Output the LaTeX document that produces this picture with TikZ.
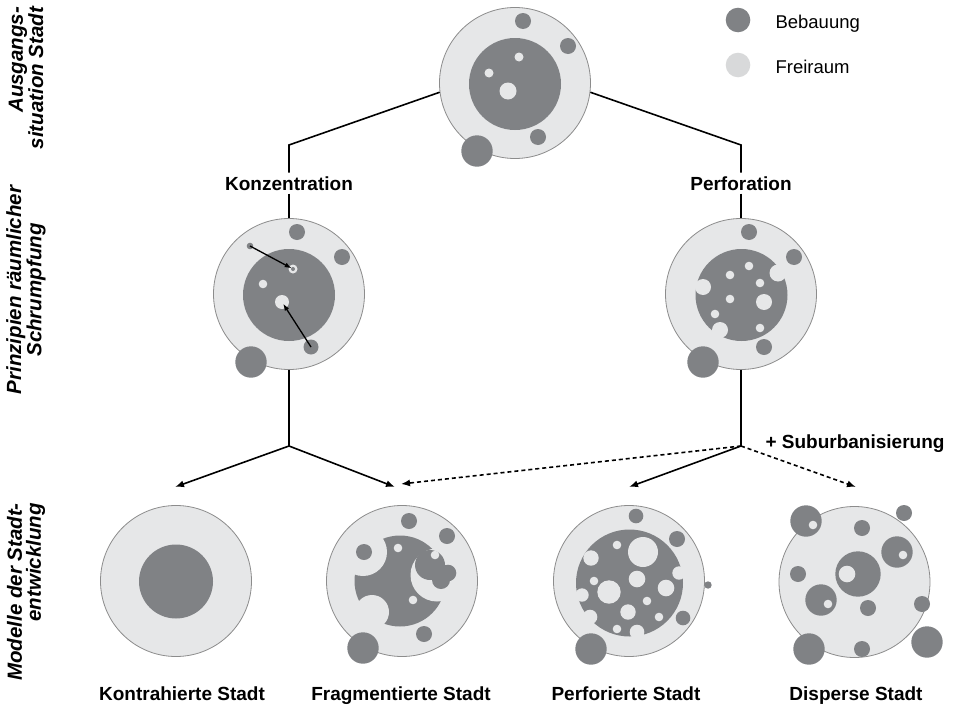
\documentclass[tikz,border=0pt]{standalone}
\usepackage{fontspec}
\setmainfont{Liberation Sans}
\usetikzlibrary{arrows.meta}
\definecolor{bebauung}{HTML}{808285}
\definecolor{freiraum}{HTML}{E6E7E8}
\definecolor{rand}{HTML}{8C8C8C}

\begin{document}
\begin{tikzpicture}[x=1pt, y=-1pt,
    stadt/.style={shape=circle, draw=rand, line width=0.8pt, fill=freiraum, minimum size=151pt, inner sep=0pt},
    punkt/.style={shape=circle, fill=bebauung, inner sep=0pt},
    loch/.style={shape=circle, fill=freiraum, inner sep=0pt},
    linie/.style={line width=1.6pt},
    pfeil/.style={line width=1.6pt, -{Latex[length=9pt, width=7pt]}},
    strich/.style={pfeil, dash pattern=on 4pt off 3pt},
    zeiger/.style={line width=1.3pt, -{Latex[length=7pt, width=5pt]}},
    titel/.style={font=\fontsize{19}{22}\selectfont\bfseries},
    ebene/.style={rotate=90, font=\fontsize{20.5}{19}\selectfont\bfseries\itshape},
    legende/.style={font=\fontsize{18.5}{22}\selectfont}]
    \useasboundingbox (0,0) rectangle (954,707);

    % Ebenen
    \node[ebene, align=right] (e1) at (26,78) {Ausgangs-\\situation Stadt};
    \node[ebene, align=center] (e2) at (26,290) {Prinzipien räumlicher\\Schrumpfung};
    \node[ebene, align=right] (e3) at (26,592) {Modelle der Stadt-\\entwicklung};

    % Legende
    \node[punkt, minimum size=24.6pt] (lbau) at (738,20) {};
    \node[legende, anchor=base west] (lbautext) at (772,28) {Bebauung};
    \node[shape=circle, fill=freiraum!94!black, inner sep=0pt, minimum size=24.6pt] (lfrei) at (738,65) {};
    \node[legende, anchor=base west] (lfreitext) at (772,73) {Freiraum};

    % Ausgangssituation
    \node[stadt] (start) at (515,83) {};
    \fill[bebauung] (515,84) circle (46);
    \fill[freiraum] (519,57) circle (4.5) (489,73) circle (4.5) (508,91) circle (8.5);
    \fill[bebauung] (523,21) circle (8) (568,46) circle (8) (538,137) circle (8) (477,151) circle (15.7);

    % Konzentration
    \node[stadt] (konzstadt) at (289,294) {};
    \fill[bebauung] (289,295) circle (46);
    \node[loch, minimum size=9pt] (kz1) at (293,269) {};
    \node[loch, minimum size=8.6pt] (kz3) at (263,284) {};
    \node[loch, minimum size=14pt] (kz2) at (282,302) {};
    \fill[bebauung] (293,269) circle (2);
    \fill[bebauung] (297,232) circle (8) (342,257) circle (8) (251,362) circle (15.7);
    \node[punkt, minimum size=6.6pt] (kq1) at (250,246) {};
    \node[punkt, minimum size=15pt] (kq2) at (311,347) {};
    \draw[zeiger, shorten >=1.5pt] (kq1.center) -- (kz1.center);
    \draw[zeiger, shorten >=2pt] (kq2.center) -- (kz2.center);

    % Perforation
    \node[stadt] (perfstadt) at (741,294) {};
    \fill[bebauung] (741.5,295) circle (46);
    \fill[freiraum] (703,287) circle (8) (778,273) circle (8.5) (720,330) circle (8)
        (749,266) circle (4.3) (730,275) circle (4.3) (760,283) circle (4.3) (730,299) circle (4.3)
        (764,302) circle (8) (715,314) circle (4.3) (760,328) circle (4.3);
    \fill[bebauung] (749,232) circle (8) (794,257) circle (8) (764,347) circle (8) (703,362) circle (15.7);

    % Kontrahierte Stadt
    \node[stadt] (kontr) at (176,581) {};
    \fill[bebauung] (176,581.5) circle (37);

    % Fragmentierte Stadt
    \node[stadt] (frag) at (402,581) {};
    \fill[bebauung] (400,581) circle (45.5);
    \fill[freiraum] (363,552) circle (24) (372,612) circle (17) (437,575) circle (26.5);
    \fill[bebauung] (430,565) circle (15) (448,573) circle (8.3) (441,580) circle (9);
    \fill[freiraum] (435,555) circle (4.3) (398,548) circle (4.3) (413,600) circle (4.3);
    \fill[bebauung] (409,521) circle (8) (447,536) circle (8) (364,552) circle (8) (424,634) circle (8) (363,648) circle (15.7);

    % Perforierte Stadt
    \node[stadt] (perf) at (629,581) {};
    \fill[bebauung] (629.5,583) circle (53.5);
    \fill[freiraum] (643,552) circle (15) (617,545) circle (4.3) (591,558) circle (7.7)
        (637,579) circle (8.3) (594,581) circle (4.3) (609,592) circle (11.7) (666,588) circle (8.3)
        (647,601) circle (4.3) (628,612) circle (7.7) (659,617) circle (4.3) (617,629) circle (4.3)
        (637,632) circle (7.3) (590,617) circle (7.3) (582,595) circle (6.7) (679,573) circle (6.7);
    \fill[bebauung] (636,516) circle (7.3) (677,539) circle (8) (683,618) circle (7.3) (708,585) circle (3.7) (591,649) circle (15.7);

    % Disperse Stadt
    \node[stadt] (disp) at (854.5,582) {};
    \fill[bebauung] (806,521) circle (15.7) (904,513) circle (8) (862,528) circle (8) (897,552) circle (15.7)
        (858,574) circle (22.7) (798,574) circle (8) (821,600) circle (15.7) (868,608) circle (8)
        (922,604) circle (8) (809,649) circle (15.7) (862,649) circle (8) (927,642) circle (15.7);
    \fill[freiraum] (813,525) circle (4.3) (903,555) circle (4.3) (847,574) circle (8.3) (828,604) circle (4.3);

    % Beschriftung
    \node[titel, anchor=base] (konz) at (289,190) {Konzentration};
    \node[titel, anchor=base] (perfo) at (741,190) {Perforation};
    \node[titel, anchor=base] (sub) at (855,448) {+ Suburbanisierung};
    \node[titel, anchor=base] (tkontr) at (182,700) {Kontrahierte Stadt};
    \node[titel, anchor=base] (tfrag) at (401,700) {Fragmentierte Stadt};
    \node[titel, anchor=base] (tperf) at (626,700) {Perforierte Stadt};
    \node[titel, anchor=base] (tdisp) at (856,700) {Disperse Stadt};

    % Verbindungen
    \coordinate (knick1) at (289,145);
    \coordinate (knick2) at (741,145);
    \coordinate (gabel1) at (289,446);
    \coordinate (gabel2) at (741,446);
    \coordinate (zkontr) at (175,487);
    \coordinate (zfrag) at (395,487);
    \coordinate (zfrag2) at (401,484);
    \coordinate (zperf) at (629,487);
    \coordinate (zdisp) at (856,487);

    \draw[linie] (start.187) -- (knick1) -- (konz);
    \draw[linie] (start.-7) -- (knick2) -- (perfo);
    \draw[linie] (konz) -- (konzstadt);
    \draw[linie] (perfo) -- (perfstadt);
    \draw[linie] (konzstadt) -- (gabel1);
    \draw[linie] (perfstadt) -- (gabel2);
    \draw[pfeil] (gabel1) -- (zkontr);
    \draw[pfeil] (gabel1) -- (zfrag);
    \draw[pfeil] (gabel2) -- (zperf);
    \draw[strich] (gabel2) -- (zfrag2);
    \draw[strich] (gabel2) -- (zdisp);
\end{tikzpicture}
\end{document}
